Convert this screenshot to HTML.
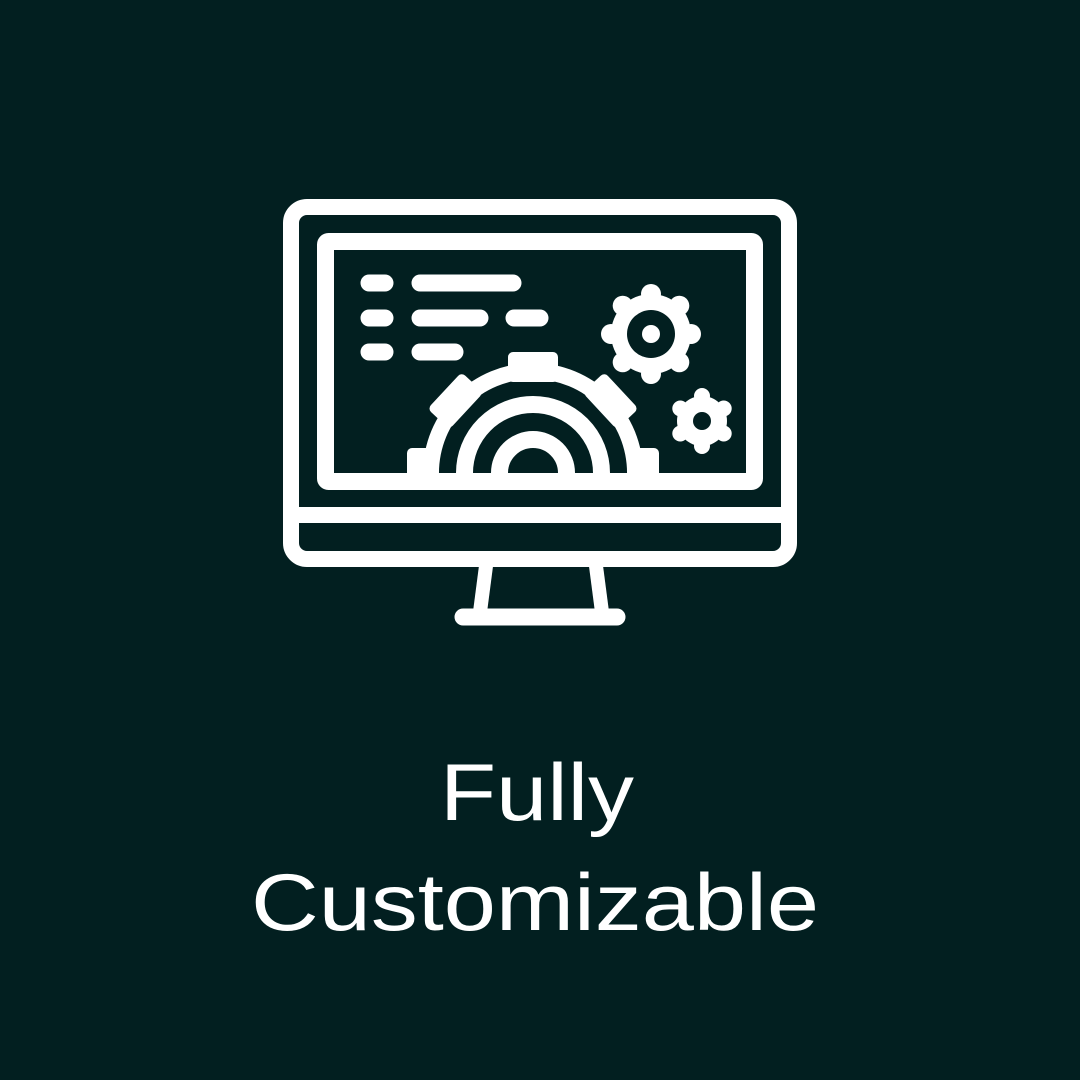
<!DOCTYPE html>
<html><head><meta charset="utf-8"><style>
html,body{margin:0;padding:0;background:#021f20;}
svg{display:block}
</style></head><body>
<svg width="1080" height="1080" viewBox="0 0 1080 1080" xmlns="http://www.w3.org/2000/svg">
<rect width="1080" height="1080" fill="#021f20"/>
<defs>
<clipPath id="cl"><rect x="0" y="0" width="1080" height="473"/></clipPath>
</defs>
<g fill="none" stroke="#fff">
  <rect x="291" y="207" width="498" height="352" rx="16" stroke-width="16"/>
  <line x1="291" y1="515" x2="789" y2="515" stroke-width="16"/>
  <rect x="325.5" y="241.5" width="429" height="240" rx="3" stroke-width="17"/>
  <line x1="486" y1="566" x2="480" y2="612" stroke-width="14"/>
  <line x1="596" y1="566" x2="602" y2="612" stroke-width="14"/>
  <line x1="463" y1="617" x2="617" y2="617" stroke-width="17" stroke-linecap="round"/>
  <g stroke-width="17" stroke-linecap="round">
    <line x1="369" y1="283" x2="385" y2="283"/>
    <line x1="420" y1="283" x2="513" y2="283"/>
    <line x1="369" y1="318" x2="385" y2="318"/>
    <line x1="420" y1="318" x2="480" y2="318"/>
    <line x1="514" y1="318" x2="540" y2="318"/>
    <line x1="369" y1="352" x2="385" y2="352"/>
    <line x1="420" y1="352" x2="455" y2="352"/>
  </g>
</g>
<g clip-path="url(#cl)" fill="#fff">
  <g transform="translate(533,473)">
    <path d="M0,-110 A110,110 0 1 1 0,110 A110,110 0 1 1 0,-110 Z M0,-94 A94,94 0 1 0 0,94 A94,94 0 1 0 0,-94 Z" fill-rule="evenodd"/>
    <g>
      <rect x="-25" y="-121" width="50" height="30" rx="5"/>
      <rect x="-25" y="-121" width="50" height="30" rx="5" transform="rotate(47)"/>
      <rect x="-25" y="-121" width="50" height="30" rx="5" transform="rotate(-47)"/>
      <rect x="-25" y="-126" width="50" height="30" rx="5" transform="rotate(90)"/>
      <rect x="-25" y="-126" width="50" height="30" rx="5" transform="rotate(-90)"/>
    </g>
    <circle r="68.5" fill="none" stroke="#fff" stroke-width="17"/>
    <circle r="33.5" fill="none" stroke="#fff" stroke-width="17"/>
  </g>
</g>
<g transform="translate(651,334)" fill="#fff">
  <circle r="40"/>
  <circle cx="0" cy="-40" r="10"/><circle cx="0" cy="40" r="10"/>
  <circle cx="-40" cy="0" r="10"/><circle cx="40" cy="0" r="10"/>
  <circle cx="28.3" cy="28.3" r="10"/><circle cx="-28.3" cy="28.3" r="10"/>
  <circle cx="28.3" cy="-28.3" r="10"/><circle cx="-28.3" cy="-28.3" r="10"/>
  <circle r="24" fill="#021f20"/>
  <circle r="9" fill="#fff"/>
</g>
<g transform="translate(702,421)" fill="#fff">
  <circle r="25"/>
  <circle cx="0" cy="-25" r="8"/><circle cx="0" cy="25" r="8"/>
  <circle cx="21.7" cy="12.5" r="8"/><circle cx="-21.7" cy="12.5" r="8"/>
  <circle cx="21.7" cy="-12.5" r="8"/><circle cx="-21.7" cy="-12.5" r="8"/>
  <circle r="9" fill="#021f20"/>
</g>
<text x="537" y="820" text-anchor="middle" font-family="Liberation Sans, sans-serif" font-size="81" fill="#fff" textLength="194" lengthAdjust="spacingAndGlyphs">Fully</text>
<text x="535" y="930" text-anchor="middle" font-family="Liberation Sans, sans-serif" font-size="81" fill="#fff" textLength="568" lengthAdjust="spacingAndGlyphs">Customizable</text>
</svg>
</body></html>
